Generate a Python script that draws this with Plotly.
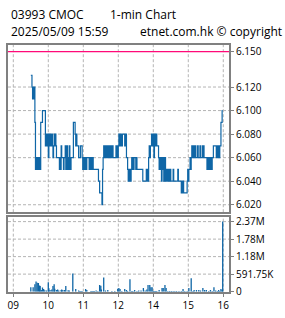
import plotly.graph_objects as go

# ---------------- data ----------------
title_line1_left = "03993 CMOC"
title_line1_right = "1-min Chart"
title_line2_left = "2025/05/09 15:59"
title_line2_right = "etnet.com.hk © copyright"

prev_close = 6.150

morning_start = "09:30"
morning_prices = [
    6.13, 6.13, 6.12, 6.11, 6.12, 6.11, 6.12, 6.09, 6.05, 6.05,
    6.06, 6.05, 6.05, 6.06, 6.05, 6.06, 6.05, 6.09, 6.09, 6.09,
    6.10, 6.10, 6.10, 6.10, 6.10, 6.07, 6.08, 6.07, 6.08, 6.07,
    6.06, 6.08, 6.07, 6.08, 6.07, 6.07, 6.08, 6.07, 6.06, 6.07,
    6.08, 6.07, 6.08, 6.07, 6.06, 6.06, 6.06, 6.06, 6.06, 6.05,
    6.06, 6.05, 6.07, 6.06, 6.06, 6.06, 6.05, 6.06, 6.06, 6.07,
    6.05, 6.06, 6.07, 6.05, 6.06, 6.05, 6.07, 6.06, 6.05, 6.06,
    6.06, 6.06, 6.06, 6.09, 6.09, 6.09, 6.08, 6.07, 6.08, 6.07,
    6.07, 6.07, 6.06, 6.06, 6.06, 6.07, 6.07, 6.07, 6.06, 6.05,
    6.06, 6.05, 6.06, 6.05, 6.06, 6.05, 6.06, 6.06, 6.06, 6.06,
    6.05, 6.06, 6.06, 6.05, 6.06, 6.05, 6.06, 6.05, 6.05, 6.05,
    6.05, 6.05, 6.05, 6.05, 6.05, 6.05, 6.04, 6.04, 6.03, 6.03,
    6.03, 6.03, 6.02, 6.05, 6.06, 6.07, 6.06, 6.07, 6.06, 6.07,
    6.06, 6.07, 6.07, 6.06, 6.07, 6.07, 6.06, 6.07, 6.06, 6.07,
    6.07, 6.06, 6.06, 6.06, 6.06, 6.06, 6.07, 6.06, 6.07, 6.06,
]

afternoon_start = "13:00"
afternoon_prices = [
    6.07, 6.08, 6.07, 6.08, 6.07, 6.08, 6.07, 6.08, 6.08, 6.08,
    6.08, 6.07, 6.08, 6.08, 6.06, 6.06, 6.05, 6.04, 6.05, 6.04,
    6.05, 6.04, 6.05, 6.06, 6.05, 6.06, 6.05, 6.06, 6.06, 6.06,
    6.05, 6.06, 6.05, 6.05, 6.05, 6.05, 6.05, 6.05, 6.05, 6.05,
    6.05, 6.05, 6.04, 6.04, 6.04, 6.04, 6.04, 6.04, 6.05, 6.04,
    6.05, 6.04, 6.06, 6.07, 6.06, 6.07, 6.07, 6.08, 6.07, 6.08,
    6.07, 6.06, 6.08, 6.08, 6.07, 6.08, 6.07, 6.07, 6.07, 6.06,
    6.05, 6.06, 6.05, 6.06, 6.04, 6.06, 6.05, 6.06, 6.04, 6.05,
    6.06, 6.04, 6.05, 6.04, 6.05, 6.04, 6.05, 6.04, 6.04, 6.05,
    6.04, 6.04, 6.04, 6.04, 6.05, 6.04, 6.04, 6.04, 6.04, 6.04,
    6.04, 6.04, 6.05, 6.04, 6.04, 6.04, 6.04, 6.04, 6.03, 6.04,
    6.03, 6.04, 6.03, 6.03, 6.03, 6.03, 6.03, 6.03, 6.04, 6.05,
    6.04, 6.05, 6.05, 6.06, 6.05, 6.06, 6.07, 6.06, 6.07, 6.06,
    6.07, 6.06, 6.07, 6.06, 6.06, 6.06, 6.07, 6.06, 6.06, 6.06,
    6.07, 6.06, 6.06, 6.06, 6.07, 6.06, 6.07, 6.06, 6.06, 6.06,
    6.06, 6.06, 6.05, 6.05, 6.06, 6.05, 6.06, 6.05, 6.06, 6.06,
    6.05, 6.06, 6.06, 6.07, 6.07, 6.07, 6.07, 6.07, 6.06, 6.07,
    6.06, 6.07, 6.06, 6.06, 6.07, 6.07, 6.09, 6.09, 6.10, 6.10,
]

volume_times = [
    "09:30", "09:34", "09:37", "09:39", "09:41", "09:43", "09:45", "09:46", "09:48", "09:50",
    "09:52", "09:54", "09:57", "10:00", "10:01", "10:03", "10:06", "10:08", "10:10", "10:11",
    "10:14", "10:16", "10:18", "10:22", "10:23", "10:25", "10:28", "10:30", "10:34", "10:36",
    "10:42", "10:47", "10:52", "10:54", "10:56", "10:58", "11:04", "11:06", "11:13", "11:15",
    "11:17", "11:19", "11:22", "11:25", "11:28", "11:30", "11:31", "11:35", "11:38", "11:42",
    "11:49", "11:54", "11:59", "13:01", "13:03", "13:06", "13:11", "13:14", "13:16", "13:20",
    "13:23", "13:25", "13:28", "13:32", "13:35", "13:39", "13:43", "13:46", "13:49", "13:51",
    "13:54", "13:56", "13:58", "14:00", "14:02", "14:04", "14:06", "14:10", "14:15", "14:17",
    "14:20", "14:22", "14:25", "14:28", "14:31", "14:34", "14:37", "14:40", "14:44", "14:48",
    "14:51", "14:54", "14:58", "15:01", "15:05", "15:08", "15:10", "15:14", "15:18", "15:21",
    "15:25", "15:28", "15:31", "15:35", "15:38", "15:41", "15:44", "15:47", "15:50", "15:52",
    "15:54", "15:56", "15:58", "15:59",
]
volumes = [
    150000, 150000, 250000, 340000, 300000, 290000, 210000, 190000, 55000, 140000,
    90000, 45000, 35000, 320000, 110000, 55000, 75000, 190000, 250000, 100000,
    55000, 75000, 35000, 55000, 75000, 55000, 55000, 190000, 45000, 35000,
    610000, 90000, 35000, 20000, 20000, 20000, 90000, 55000, 20000, 20000,
    20000, 20000, 35000, 20000, 220000, 200000, 75000, 480000, 35000, 55000,
    20000, 20000, 100000, 120000, 90000, 20000, 90000, 55000, 20000, 420000,
    20000, 20000, 55000, 20000, 35000, 35000, 120000, 35000, 75000, 220000,
    220000, 150000, 150000, 20000, 20000, 20000, 20000, 55000, 120000, 120000,
    220000, 120000, 20000, 20000, 20000, 20000, 20000, 25000, 25000, 20000,
    90000, 25000, 20000, 120000, 455000, 20000, 55000, 55000, 55000, 35000,
    120000, 55000, 55000, 20000, 55000, 20000, 150000, 35000, 20000, 55000,
    20000, 90000, 55000, 2367000,
]

hour_labels = ["09", "10", "11", "12", "14", "15", "16"]
hour_times = ["09:00", "10:00", "11:00", "12:00", "14:00", "15:00", "16:00"]
price_ticks = [6.020, 6.040, 6.060, 6.080, 6.100, 6.120, 6.150]
volume_ticks = [0, 591750, 1183500, 1775250, 2367000]
volume_tick_text = ["0", "591.75K", "1.18M", "1.78M", "2.37M"]


# ---------------- helpers ----------------
def axis_minute(t):
    """Trading-axis minute: lunch break (12:00-13:00) collapsed."""
    h, m = (int(v) for v in t.split(":"))
    if h >= 13:
        return (h - 10) * 60 + m
    return (h - 9) * 60 + m


def series_x(start, n):
    s = axis_minute(start)
    return [s + i for i in range(n)]


px_x = series_x(morning_start, len(morning_prices)) + series_x(afternoon_start, len(afternoon_prices))
px_y = morning_prices + afternoon_prices
vol_x = [axis_minute(t) for t in volume_times]
hour_x = [axis_minute(t) for t in hour_times]

W, H = 285, 318
BLUE = "#0f66a6"
GRID = "#b4b4b4"
FRAME = "#808080"

x_lo, x_hi = -9.1, 369.8
p_lo, p_hi = 6.01366, 6.1560
v_lo, v_hi = 0, 2.521e6

fig = go.Figure()

# price-panel grid
gx, gy = [], []
for hx in hour_x:
    gx += [hx, hx, None]
    gy += [p_lo, p_hi, None]
for v in price_ticks[:-1]:
    gx += [x_lo, x_hi, None]
    gy += [v, v, None]
fig.add_trace(go.Scatter(x=gx, y=gy, mode="lines", showlegend=False,
                         line=dict(color=GRID, width=1, dash="3px,2px")))
fig.add_trace(go.Scatter(x=[x_lo, x_hi], y=[prev_close, prev_close], mode="lines",
                         showlegend=False, line=dict(color="#ff0a78", width=1.2)))
fig.add_trace(go.Scatter(x=px_x, y=px_y, mode="lines", showlegend=False,
                         line=dict(color=BLUE, width=1.2, shape="hv")))

# volume-panel grid
vgx, vgy = [], []
for hx in hour_x:
    vgx += [hx, hx, None]
    vgy += [v_lo, v_hi, None]
for v in volume_ticks[1:]:
    vgx += [x_lo, x_hi, None]
    vgy += [v, v, None]
fig.add_trace(go.Scatter(x=vgx, y=vgy, mode="lines", xaxis="x2", yaxis="y2", showlegend=False,
                         line=dict(color=GRID, width=1, dash="3px,2px")))

# volume bars drawn as vertical stems (scatter)
bx, by = [], []
for t, v in zip(vol_x, volumes):
    bx += [t, t, None]
    by += [0, v, None]
fig.add_trace(go.Scatter(x=bx, y=by, mode="lines", xaxis="x2", yaxis="y2", showlegend=False,
                         line=dict(color=BLUE, width=1.3)))

xdom = [8 / W, 229 / W]

fig.update_layout(
    width=W, height=H, margin=dict(l=0, r=0, t=0, b=0),
    paper_bgcolor="white", plot_bgcolor="white",
    xaxis=dict(range=[x_lo, x_hi], domain=xdom, showgrid=False, zeroline=False,
               showline=True, mirror=True, linecolor=FRAME, linewidth=2, anchor="y",
               showticklabels=False, ticks=""),
    xaxis2=dict(range=[x_lo, x_hi], domain=xdom, showgrid=False, zeroline=False,
                showline=True, mirror=True, linecolor=FRAME, linewidth=2, anchor="y2",
                tickmode="array", tickvals=hour_x, ticktext=hour_labels,
                ticks="outside", ticklen=3, tickcolor=FRAME,
                tickfont=dict(size=10, color="black")),
    yaxis=dict(domain=[(H - 216) / H, (H - 43) / H], range=[p_lo, p_hi], side="right",
               tickmode="array", tickvals=price_ticks,
               ticktext=[f"{v:.3f}" for v in price_ticks],
               showgrid=False, zeroline=False, showline=True, mirror=True,
               linecolor=FRAME, linewidth=2, anchor="x", ticks="outside", ticklen=3,
               tickcolor=FRAME, tickfont=dict(size=10, color="black")),
    yaxis2=dict(domain=[(H - 298) / H, (H - 221) / H], range=[v_lo, v_hi], side="right",
                tickmode="array", tickvals=volume_ticks, ticktext=volume_tick_text,
                showgrid=False, zeroline=False, showline=True, mirror=True,
                linecolor=FRAME, linewidth=2, anchor="x2", ticks="outside", ticklen=3,
                tickcolor=FRAME, tickfont=dict(size=10, color="black")),
)

def label(text, xpx, ypx):
    fig.add_annotation(
        text=text, x=xpx / W, y=1 - ypx / H, xref="paper", yref="paper",
        xanchor="left", yanchor="middle", showarrow=False,
        font=dict(size=12, color="black"),
    )

label(title_line1_left, 9, 12)
label(title_line1_right, 108, 12)
label(title_line2_left, 9, 29)
label(title_line2_right, 138, 29)

fig.write_html("out.html")
